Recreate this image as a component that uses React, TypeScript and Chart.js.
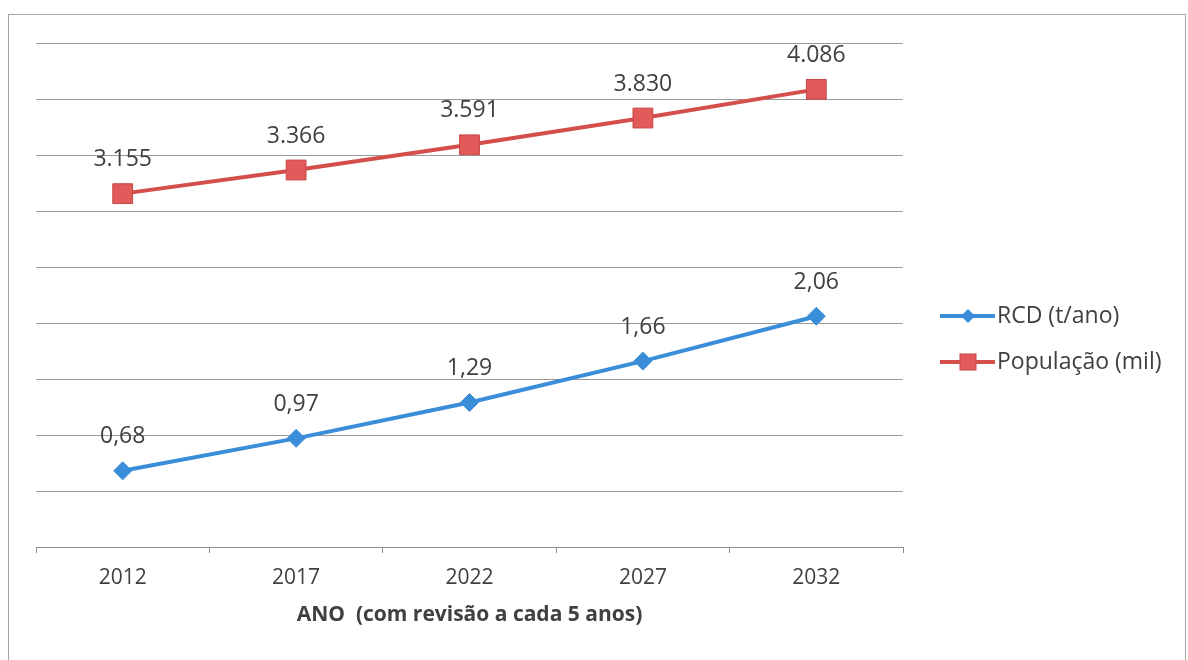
import React, { useEffect, useRef } from "react";
import { Chart, registerables } from "chart.js";

Chart.register(...registerables);

const years = ["2012", "2017", "2022", "2027", "2032"];
const rcdValues = [0.68, 0.97, 1.29, 1.66, 2.06];
const rcdLabels = ["0,68", "0,97", "1,29", "1,66", "2,06"];
const popValues = [3.155, 3.366, 3.591, 3.83, 4.086];
const popLabels = ["3.155", "3.366", "3.591", "3.830", "4.086"];
const seriesNames = ["RCD (t/ano)", "População (mil)"];
const axisTitle = "ANO  (com revisão a cada 5 anos)";

const BLUE = "#3a8dd8";
const RED_LINE = "#d44f4c";
const RED_FILL = "#e35a5a";
const RED_EDGE = "#c44744";
const TEXT = "#404040";
const FONT = "'Open Sans', 'DejaVu Sans', sans-serif";

const CANVAS_W = 1176;
const CANVAS_H = 638;

const dataLabelPlugin = {
  id: "dataLabelPlugin",
  afterDatasetsDraw(chart: any) {
    const ctx = chart.ctx;
    const sets = [rcdLabels, popLabels];
    ctx.save();
    ctx.font = `23px ${FONT}`;
    ctx.fillStyle = TEXT;
    ctx.textAlign = "center";
    ctx.textBaseline = "middle";
    chart.data.datasets.forEach((_ds: any, i: number) => {
      const meta = chart.getDatasetMeta(i);
      meta.data.forEach((pt: any, j: number) => {
        ctx.fillText(sets[i][j], pt.x, pt.y - 34);
      });
    });
    ctx.restore();
  },
};

const legendPlugin = {
  id: "customLegend",
  afterDraw(chart: any) {
    const ctx = chart.ctx;
    const x0 = 931;
    const x1 = 986;
    const mx = 959;
    const rows = [301, 347];
    ctx.save();
    rows.forEach((y, i) => {
      const color = i === 0 ? BLUE : RED_LINE;
      ctx.strokeStyle = color;
      ctx.lineWidth = 4;
      ctx.beginPath();
      ctx.moveTo(x0, y);
      ctx.lineTo(x1, y);
      ctx.stroke();
      if (i === 0) {
        ctx.fillStyle = BLUE;
        ctx.beginPath();
        ctx.moveTo(mx, y - 7);
        ctx.lineTo(mx + 7, y);
        ctx.lineTo(mx, y + 7);
        ctx.lineTo(mx - 7, y);
        ctx.closePath();
        ctx.fill();
      } else {
        ctx.fillStyle = RED_FILL;
        ctx.strokeStyle = RED_EDGE;
        ctx.lineWidth = 1;
        ctx.fillRect(mx - 8, y - 8, 16, 16);
        ctx.strokeRect(mx - 8, y - 8, 16, 16);
      }
      ctx.font = `23px ${FONT}`;
      ctx.fillStyle = TEXT;
      ctx.textAlign = "left";
      ctx.textBaseline = "middle";
      ctx.fillText(seriesNames[i], x1 + 2, y);
    });
    ctx.restore();
  },
};

export default function App() {
  const canvasRef = useRef<HTMLCanvasElement | null>(null);

  useEffect(() => {
    if (!canvasRef.current) return;
    const chart = new Chart(canvasRef.current, {
      type: "line",
      data: {
        labels: years,
        datasets: [
          {
            label: seriesNames[0],
            data: rcdValues,
            borderColor: BLUE,
            backgroundColor: BLUE,
            borderWidth: 4,
            pointStyle: "rectRot",
            pointRadius: 9,
            pointHoverRadius: 9,
            pointBackgroundColor: BLUE,
            pointBorderColor: BLUE,
            pointBorderWidth: 1,
            tension: 0,
          },
          {
            label: seriesNames[1],
            data: popValues,
            borderColor: RED_LINE,
            backgroundColor: RED_FILL,
            borderWidth: 4,
            pointStyle: "rect",
            pointRadius: 14,
            pointHoverRadius: 14,
            pointBackgroundColor: RED_FILL,
            pointBorderColor: RED_EDGE,
            pointBorderWidth: 1,
            tension: 0,
          },
        ],
      },
      options: {
        responsive: false,
        animation: false,
        devicePixelRatio: 1,
        layout: { padding: { left: 27, top: 28, right: 282, bottom: 0 } },
        plugins: {
          legend: { display: false },
          tooltip: { enabled: false },
          title: { display: false },
        },
        scales: {
          x: {
            type: "category",
            offset: true,
            grid: {
              offset: true,
              drawOnChartArea: false,
              drawTicks: true,
              tickLength: 6,
              color: "#8c8c8c",
            },
            border: { display: true, color: "#8c8c8c", width: 1 },
            ticks: {
              color: TEXT,
              font: { family: FONT, size: 21 },
              padding: 12,
              maxRotation: 0,
            },
            title: {
              display: true,
              text: axisTitle,
              color: TEXT,
              font: { family: FONT, size: 21, weight: "bold" },
              padding: { top: 0, bottom: 25 },
            },
            afterFit: (scale: any) => {
              scale.height = 106;
            },
          },
          y: {
            min: 0,
            max: 4.5,
            ticks: { display: false, stepSize: 0.5 },
            grid: { color: "#9a9a9a", lineWidth: 1, drawTicks: false },
            border: { display: false },
            afterFit: (scale: any) => {
              scale.width = 0;
            },
          },
        },
      },
      plugins: [dataLabelPlugin, legendPlugin],
    });
    return () => chart.destroy();
  }, []);

  return (
    <div
      style={{
        position: "fixed",
        left: 0,
        top: 0,
        width: 1188,
        height: 660,
        overflow: "hidden",
        background: "#fff",
      }}
    >
      <div
        style={{
          position: "absolute",
          left: 8,
          top: 14,
          width: CANVAS_W + 2,
          height: 660,
          border: "1px solid #a6a6a6",
          boxSizing: "border-box",
          background: "#fff",
        }}
      >
        <canvas
          ref={canvasRef}
          width={CANVAS_W}
          height={CANVAS_H}
          style={{ display: "block", width: CANVAS_W, height: CANVAS_H }}
        />
      </div>
    </div>
  );
}
